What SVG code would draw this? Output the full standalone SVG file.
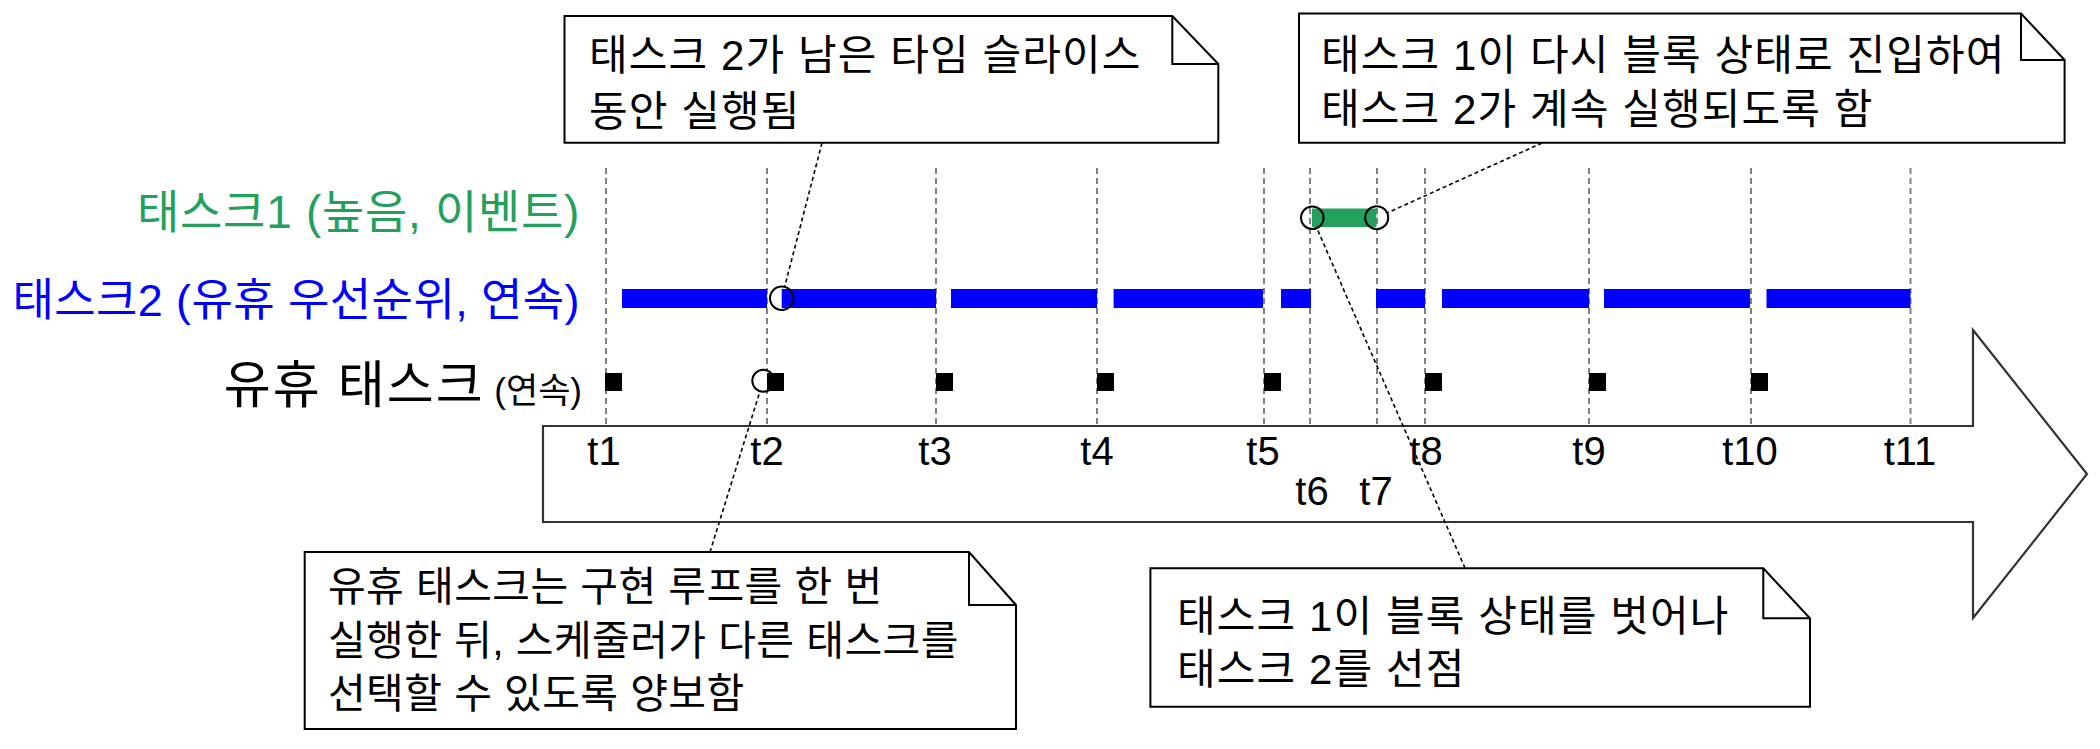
<svg xmlns="http://www.w3.org/2000/svg" width="2100" height="749" viewBox="0 0 2100 749">
<style>
text{font-family:"Liberation Sans","Noto Sans CJK KR",sans-serif;fill:#000}
.note{fill:#fff;stroke:#000;stroke-width:2;stroke-linejoin:miter}
.fold{fill:none;stroke:#000;stroke-width:2}
.nt{font-size:42px;letter-spacing:1.1px}
.nt3{font-size:41px;letter-spacing:0.4px}
.tick{stroke:#808080;stroke-width:2;stroke-dasharray:6 4;fill:none}
.lead{stroke:#000;stroke-width:1.6;stroke-dasharray:4 3;fill:none}
.tl{font-size:40px;text-anchor:middle}
.b2{fill:#0000ff}
.b1{fill:#23a05c}
.sq{fill:#000}
.ring{fill:none;stroke:#000;stroke-width:2}
</style>
<rect width="2100" height="749" fill="#fff"/>

<g id="time-arrow">
<path d="M543,426 L1973,426 L1973,330 L2087,474 L1973,618 L1973,522 L543,522 Z" fill="#fff" stroke="#333" stroke-width="2.2"/>
<text class="tl" x="604" y="465">t1</text>
<text class="tl" x="767" y="465">t2</text>
<text class="tl" x="935" y="465">t3</text>
<text class="tl" x="1097" y="465">t4</text>
<text class="tl" x="1263" y="465">t5</text>
<text class="tl" x="1312" y="505">t6</text>
<text class="tl" x="1376" y="505">t7</text>
<text class="tl" x="1426" y="465">t8</text>
<text class="tl" x="1589" y="465">t9</text>
<text class="tl" x="1750" y="465">t10</text>
<text class="tl" x="1910" y="465">t11</text>
</g>

<g id="time-ticks">
<path class="tick" d="M606,168V426M767,168V426M936,168V426M1097,168V426M1264,168V426M1310,168V426M1377,168V426M1425,168V426M1589,168V426M1751,168V426M1910.5,168V426"/>
</g>

<g id="labels">
<text x="580" y="228" text-anchor="end" font-size="46" letter-spacing="0.7" style="fill:#23a05c">태스크1 (높음, 이벤트)</text>
<text x="580" y="316" text-anchor="end" font-size="45" letter-spacing="0.4" style="fill:#0000ff">태스크2 (유휴 우선순위, 연속)</text>
<text x="582" y="403" text-anchor="end" font-size="51" letter-spacing="2">유휴 태스크<tspan font-size="35" letter-spacing="0"> (연속)</tspan></text>
</g>

<g id="task1">
<rect class="b1" x="1312" y="208.5" width="64.5" height="18.5"/>
<circle class="ring" cx="1312.3" cy="217.7" r="11.3"/>
<circle class="ring" cx="1376.7" cy="217.7" r="11.5"/>
</g>

<g id="task2">
<rect class="b2" x="622" y="289" width="145" height="19"/>
<circle cx="781.7" cy="298.3" r="11.7" fill="#fff"/>
<rect class="b2" x="781.7" y="289" width="154.3" height="19"/>
<circle class="ring" cx="781.7" cy="298.3" r="11.7"/>
<rect class="b2" x="951" y="289" width="146" height="19"/>
<rect class="b2" x="1113.6" y="289" width="149.4" height="19"/>
<rect class="b2" x="1281" y="289" width="30" height="19"/>
<rect class="b2" x="1376" y="289" width="49" height="19"/>
<rect class="b2" x="1442" y="289" width="147" height="19"/>
<rect class="b2" x="1604" y="289" width="146" height="19"/>
<rect class="b2" x="1766.5" y="289" width="144" height="19"/>
</g>

<g id="idle-task">
<rect class="sq" x="605" y="373" width="17" height="18"/>
<circle cx="763.3" cy="380.7" r="11" fill="#fff" stroke="#000" stroke-width="2"/>
<rect class="sq" x="767" y="373" width="17" height="18"/>
<rect class="sq" x="936" y="373" width="17" height="18"/>
<rect class="sq" x="1097" y="373" width="17" height="18"/>
<rect class="sq" x="1264" y="373" width="17" height="18"/>
<rect class="sq" x="1425" y="373" width="17" height="18"/>
<rect class="sq" x="1589" y="373" width="17" height="18"/>
<rect class="sq" x="1751" y="373" width="17" height="18"/>
</g>

<g id="connectors">
<path class="lead" d="M822,143 L784.6,287"/>
<path class="lead" d="M1542,143 L1387,213"/>
<path class="lead" d="M1465,568 L1316.7,227.8"/>
<path class="lead" d="M710,552 L760,391.2"/>
</g>

<g id="note1">
<path class="note" d="M564.5,16 H1172.3 L1218.3,64 V142.7 H564.5 Z"/>
<path class="fold" d="M1172.3,16 V64 H1218.3"/>
<text class="nt" x="589" y="70">태스크 2가 남은 타임 슬라이스</text>
<text class="nt" x="589" y="126">동안 실행됨</text>
</g>

<g id="note2">
<path class="note" d="M1299,13.5 H2021 L2064.6,60 V142.7 H1299 Z"/>
<path class="fold" d="M2021,13.5 V60 H2064.6"/>
<text class="nt" x="1321" y="70">태스크 1이 다시 블록 상태로 진입하여</text>
<text class="nt" x="1321" y="124">태스크 2가 계속 실행되도록 함</text>
</g>

<g id="note3">
<path class="note" d="M304.7,552 H969 L1016,605 V729 H304.7 Z"/>
<path class="fold" d="M969,552 V605 H1016"/>
<text class="nt3" x="328" y="601">유휴 태스크는 구현 루프를 한 번</text>
<text class="nt3" x="328" y="655">실행한 뒤, 스케줄러가 다른 태스크를</text>
<text class="nt3" x="328" y="708">선택할 수 있도록 양보함</text>
</g>

<g id="note4">
<path class="note" d="M1150.4,568.3 H1763.3 L1810,618.3 V706.7 H1150.4 Z"/>
<path class="fold" d="M1763.3,568.3 V618.3 H1810"/>
<text class="nt" x="1177" y="631">태스크 1이 블록 상태를 벗어나</text>
<text class="nt" x="1177" y="684">태스크 2를 선점</text>
</g>
</svg>
